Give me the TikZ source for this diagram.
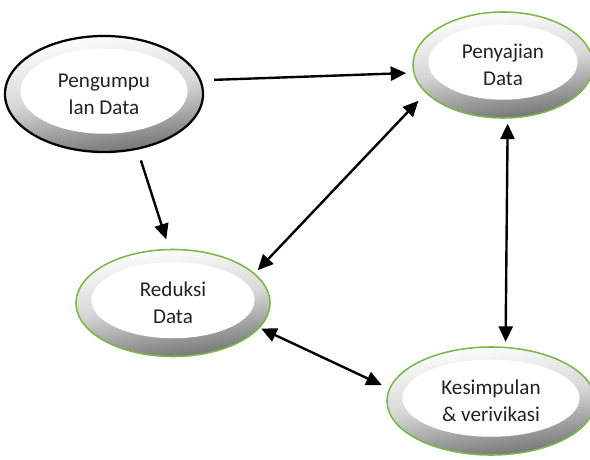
\documentclass[tikz,border=0pt]{standalone}
\usepackage{fontspec}
\setmainfont{Carlito}
\usetikzlibrary{shapes.geometric, arrows.meta, calc}
\definecolor{ringgreen}{RGB}{122, 184, 72}
\definecolor{ringgray}{RGB}{112, 112, 112}
\definecolor{ringmid}{RGB}{215, 215, 215}
\definecolor{textgray}{RGB}{35, 35, 35}

\begin{document}
\begin{tikzpicture}[
    x=0.025cm, y=-0.025cm,
    font=\fontsize{15}{19}\selectfont,
    % Define styles
    stage/.style = {ellipse, draw=ringgreen, line width=1.1pt, align=center, text=textgray, inner sep=0pt,
        top color=white, bottom color=ringgray, middle color=ringmid, shading angle=8,
        path picture={\fill[white] let \p1=(path picture bounding box.north east), \p2=(path picture bounding box.south west) in ([yshift=2pt]$(\p1)!0.5!(\p2)$) ellipse [x radius={0.5*(\x1-\x2)-11pt}, y radius={0.5*(\y1-\y2)-11pt}];}},
    collect/.style = {stage, draw=black, line width=1.6pt},
    arrow/.style = {line width=1.7pt, -{Triangle[length=11pt, width=10pt]}, draw=black},
    twoway/.style = {arrow, {Triangle[length=11pt, width=10pt]}-{Triangle[length=11pt, width=10pt]}}
]
\useasboundingbox (0,0) rectangle (590,459);
\fill[white] (0,0) rectangle (590,459);

% Nodes
\node [collect, minimum width=4.95cm, minimum height=2.9cm] (peng) at (104,94) {Pengumpu\\lan Data};
\node [stage, minimum width=4.5cm, minimum height=2.65cm] (peny) at (503,65) {Penyajian\\Data};
\node [stage, minimum width=4.85cm, minimum height=2.675cm] (red) at (173,303) {Reduksi\\Data};
\node [stage, minimum width=5.2cm, minimum height=2.7cm] (kes) at (491,401) {Kesimpulan\\\& verivikasi};

% Arrows
\draw [arrow, shorten <=9pt, shorten >=5pt] (peng.8) -- (peny.185);
\draw [arrow, shorten <=8pt, shorten >=7pt] (peng.301) -- (red.94);
\draw [twoway, shorten <=3pt, shorten >=7.5pt] (red.20) -- (peny.200);
\draw [twoway, shorten <=3.5pt, shorten >=3.5pt] (peny.275) -- (kes.75);
\draw [twoway, shorten <=1pt, shorten >=5.7pt] (red.-16) -- (kes.173);

\end{tikzpicture}
\end{document}
